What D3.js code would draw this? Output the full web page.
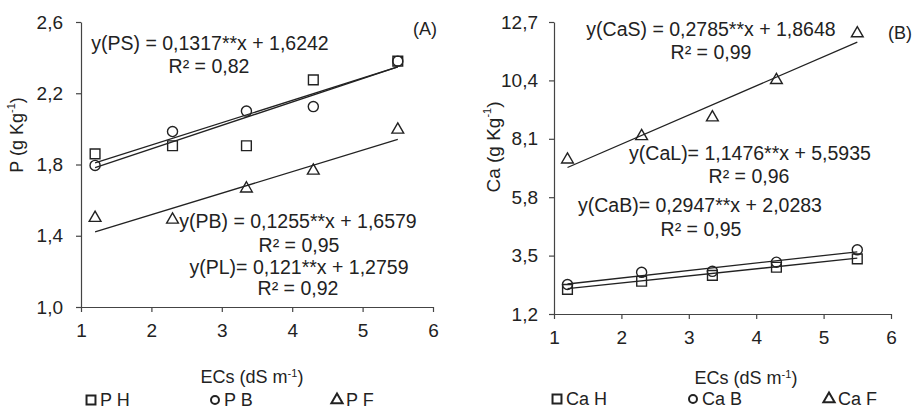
<!DOCTYPE html>
<html lang="pt">
<head>
<meta charset="utf-8">
<title>P e Ca vs ECs</title>
<script src="https://cdn.jsdelivr.net/npm/d3@7/dist/d3.min.js"></script>
<style>
  body { margin: 0; background: #fff; }
  svg text { font-family: "Liberation Sans", Arial, sans-serif; fill: #222; }
</style>
</head>
<body>
<svg id="chart" width="912" height="409"></svg>
<script>
// dados
const ecs = [1.2, 2.3, 3.35, 4.3, 5.5];
const pH = [1.86, 1.905, 1.905, 2.275, 2.38];
const pB = [1.795, 1.985, 2.10, 2.125, 2.38];
const pF = [1.50, 1.49, 1.665, 1.765, 1.995];
const caH = [2.17, 2.49, 2.72, 3.04, 3.37];
const caB = [2.36, 2.84, 2.88, 3.24, 3.73];
const caF = [7.28, 8.20, 8.94, 10.41, 12.25];

// coeficientes das equacoes (a*x + b)
const pCoef = [[0.1317, 1.6242], [0.1255, 1.6579], [0.121, 1.2759]];
const caCoef = [[0.2785, 1.8648], [0.2947, 2.0283], [1.1476, 5.5935]];

const ecTicks = [1, 2, 3, 4, 5, 6];
const pTicks = [1.0, 1.4, 1.8, 2.2, 2.6];
const caTicks = [1.2, 3.5, 5.8, 8.1, 10.4, 12.7];

const pEq = ["y(PS) = 0,1317**x + 1,6242", "R² = 0,82", "y(PB) = 0,1255**x + 1,6579", "R² = 0,95", "y(PL)= 0,121**x + 1,2759", "R² = 0,92"];
const caEq = ["y(CaS) = 0,2785**x + 1,8648", "R² = 0,99", "y(CaL)= 1,1476**x + 5,5935", "R² = 0,96", "y(CaB)= 0,2947**x + 2,0283", "R² = 0,95"];

const pLegend = ["P H", "P B", "P F"];
const caLegend = ["Ca H", "Ca B", "Ca F"];

const ptBR = d3.formatLocale({decimal: ",", thousands: ".", grouping: [3], currency: ["R$", ""]});
const fmt1 = ptBR.format(".1f");

const svg = d3.select("#chart");
const ink = "#222";
const symbols = [d3.symbolSquare, d3.symbolCircle, d3.symbolTriangle];
const symSize = [95, 80, 60];

function drawPanel(o) {
  const x = d3.scaleLinear().domain([1, 6]).range(o.xr);
  const y = d3.scaleLinear().domain(o.ydom).range(o.yr);
  const g = svg.append("g");

  const xa = g.append("g")
    .attr("transform", "translate(0," + o.yr[0] + ")")
    .call(d3.axisBottom(x).tickValues(ecTicks).tickSize(5).tickSizeOuter(0).tickPadding(12).tickFormat(d3.format("d")));
  const ya = g.append("g")
    .attr("transform", "translate(" + o.xr[0] + ",0)")
    .call(d3.axisLeft(y).tickValues(o.yticks).tickSize(5).tickSizeOuter(0).tickPadding(o.ypad).tickFormat(fmt1));
  [xa, ya].forEach(function(a) {
    a.selectAll("path, line").attr("stroke", "#444").attr("stroke-width", 1.2);
    a.selectAll("text").style("font-size", "19px").attr("fill", ink)
      .style("font-family", "'Liberation Sans', Arial, sans-serif");
  });

  // linhas de tendencia
  o.coef.forEach(function(c) {
    const x0 = d3.min(ecs), x1 = d3.max(ecs);
    g.append("line")
      .attr("x1", x(x0)).attr("y1", y(c[0] * x0 + c[1]))
      .attr("x2", x(x1)).attr("y2", y(c[0] * x1 + c[1]))
      .attr("stroke", ink).attr("stroke-width", 1.3);
  });

  // pontos
  o.series.forEach(function(s, i) {
    g.selectAll(null).data(s).enter().append("path")
      .attr("d", d3.symbol().type(symbols[i]).size(symSize[i]))
      .attr("transform", function(d, j) { return "translate(" + x(ecs[j]) + "," + y(d) + ")"; })
      .attr("fill", "none").attr("stroke", ink).attr("stroke-width", 1.4);
  });

  // equacoes
  o.eq.forEach(function(t, i) {
    g.append("text")
      .attr("x", o.eqPos[i][0]).attr("y", o.eqPos[i][1])
      .attr("text-anchor", "middle").attr("dominant-baseline", "central")
      .style("font-size", "19.5px").text(t);
  });
  g.append("text").attr("x", o.tag[1]).attr("y", o.tag[2])
    .attr("text-anchor", "middle").attr("dominant-baseline", "central")
    .style("font-size", "18px").text(o.tag[0]);

  // titulos dos eixos
  const xt = g.append("text").attr("x", o.xtitle[0]).attr("y", o.xtitle[1])
    .attr("text-anchor", "middle").style("font-size", "18px");
  xt.append("tspan").text("ECs (dS m");
  xt.append("tspan").attr("dy", -6).style("font-size", "11px").text("-1");
  xt.append("tspan").attr("dy", 6).text(")");

  const yt = g.append("text")
    .attr("transform", "translate(" + o.ytitle[0] + "," + o.ytitle[1] + ") rotate(-90)")
    .attr("text-anchor", "middle").attr("dominant-baseline", "central").style("font-size", o.yfs);
  yt.append("tspan").text(o.yname + " (g Kg");
  yt.append("tspan").attr("dy", -6).style("font-size", "11px").text("-1");
  yt.append("tspan").attr("dy", 6).text(")");

  // legenda
  o.legend.forEach(function(t, i) {
    const lx = o.legX[i];
    g.append("path")
      .attr("d", d3.symbol().type(symbols[i]).size([80, 50, 55][i]))
      .attr("transform", "translate(" + lx + "," + o.legY + ")")
      .attr("fill", "none").attr("stroke", ink).attr("stroke-width", 2);
    g.append("text").attr("x", lx + 9).attr("y", o.legY)
      .attr("dominant-baseline", "central").style("font-size", "18px").text(t);
  });
}

drawPanel({
  xr: [81, 433], yr: [307, 22], ydom: [1.0, 2.6], yticks: pTicks, ypad: 13,
  series: [pH, pB, pF], coef: pCoef, eq: pEq,
  eqPos: [[210, 43], [209, 66], [298, 221], [299, 245], [299, 267], [298, 288]],
  tag: ["(A)", 425, 29], xtitle: [252, 383], ytitle: [17, 135], yname: "P", yfs: "18px",
  legend: pLegend, legX: [91, 215, 337], legY: 400
});

drawPanel({
  xr: [554, 891], yr: [314, 22], ydom: [1.2, 12.7], yticks: caTicks, ypad: 11,
  series: [caH, caB, caF], coef: caCoef, eq: caEq,
  eqPos: [[711, 29], [711, 52], [750, 153], [749, 176], [700, 205], [701, 229]],
  tag: ["(B)", 900, 33], xtitle: [746, 384], ytitle: [493, 147], yname: "Ca", yfs: "19px",
  legend: caLegend, legX: [557, 693, 829], legY: 399
});
</script>
</body>
</html>
